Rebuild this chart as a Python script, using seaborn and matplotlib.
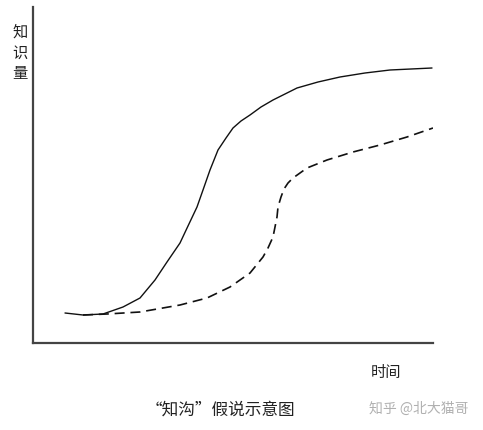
import matplotlib
matplotlib.use("Agg")
import matplotlib.pyplot as plt
import seaborn as sns
import pandas as pd

# Data (arbitrary units: time vs knowledge)
solid_time = [32, 50, 70, 90, 107, 122, 134, 147, 155, 164, 170, 177, 185, 193, 200,
              208, 217, 228, 240, 252, 264, 285, 307, 332, 357, 399]
solid_know = [30, 28, 29, 36, 45, 63, 81, 100, 117, 136, 153, 173, 193, 205, 215,
              222, 228, 236, 243, 249, 255, 261, 266, 270, 273, 275]

dashed_time = [50, 74, 107, 147, 174, 197, 217, 230, 235, 240, 242, 244, 245, 248, 251,
               255, 260, 267, 274, 284, 294, 307, 320, 347, 374, 400]
dashed_know = [28, 29, 31, 38, 45, 56, 70, 86, 95, 106, 116, 126, 136, 146, 154,
               160, 165, 170, 175, 179, 183, 187, 191, 198, 206, 215]

y_label = "知\n识\n量"
x_label = "时间"
title = "“知沟”假说示意图"
watermark = "知乎 @北大猫哥"

sns.set_theme(style="white")
plt.rcParams['font.family'] = ['Noto Sans CJK SC', 'DejaVu Sans']

fig = plt.figure(figsize=(4.83, 4.30), dpi=100)
ax = fig.add_axes([33/483, 1 - 343/430, 400/483, 336/430])

solid_df = pd.DataFrame({"t": solid_time, "k": solid_know})
dashed_df = pd.DataFrame({"t": dashed_time, "k": dashed_know})

sns.lineplot(data=solid_df, x="t", y="k", ax=ax, color="#111111", linewidth=1.0, sort=False)
sns.lineplot(data=dashed_df, x="t", y="k", ax=ax, color="#111111", linewidth=1.2,
             sort=False, linestyle=(0, (6, 3.5)))

ax.set_xlim(0, 400)
ax.set_ylim(0, 336)
ax.set_xticks([])
ax.set_yticks([])
ax.set_xlabel("")
ax.set_ylabel("")
for side in ["top", "right"]:
    ax.spines[side].set_visible(False)
for side in ["left", "bottom"]:
    ax.spines[side].set_color("#444444")
    ax.spines[side].set_linewidth(1.6)

fig.text(20/483, 1 - 53/430, y_label, ha="center", va="center", fontsize=11,
         linespacing=1.3, color="#222222", fontweight="light")
fig.text(386/483, 1 - 373/430, x_label, ha="center", va="center", fontsize=11,
         color="#222222", fontweight="light")
fig.text(220/483, 1 - 410/430, title, ha="center", va="center", fontsize=12,
         color="#222222", fontweight="light")
fig.text(419/483, 1 - 409/430, watermark, ha="center", va="center", fontsize=10,
         color="#b0b0b0")

fig.savefig("out.png", dpi=100, facecolor="white")
